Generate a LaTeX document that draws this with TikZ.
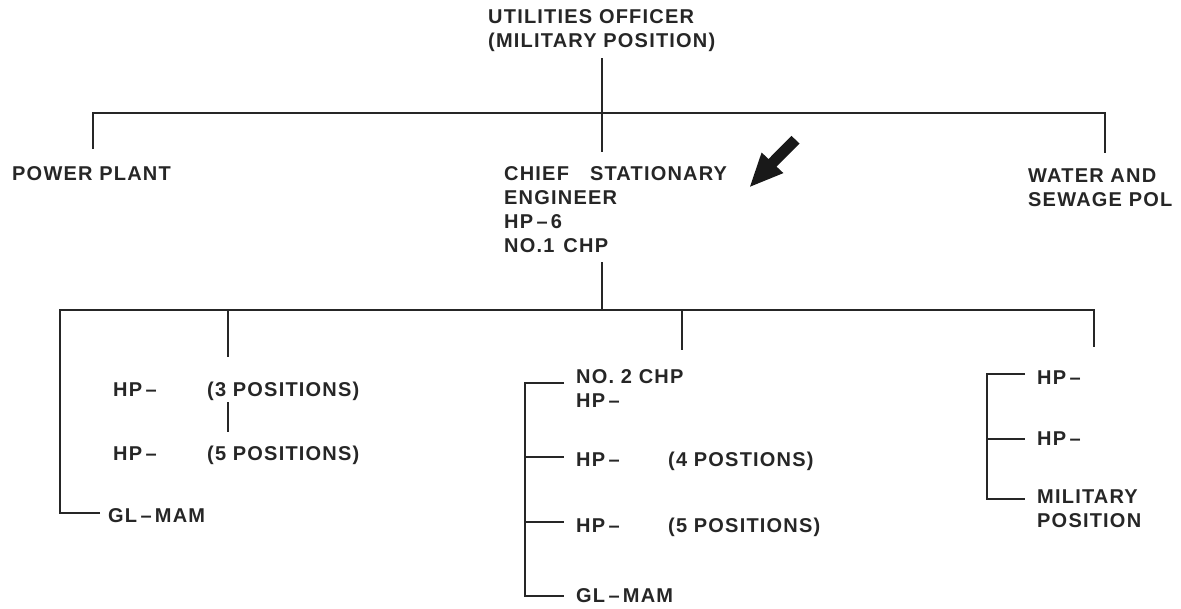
\documentclass[tikz,border=0pt]{standalone}
\usepackage{fontspec}
\setmainfont{Liberation Sans}[LetterSpace=6]
\begin{document}
\begin{tikzpicture}[x=1pt,y=-1pt,
  lbl/.style={anchor=base west,inner sep=0pt,font=\fontsize{20}{24}\selectfont\bfseries,text=black!85},
  ml/.style={lbl,align=left},
  wire/.style={line width=1.9pt,black!85}]
\useasboundingbox (0,0) rectangle (1181,608);
% top (multi-line nodes are placed by the baseline of their last line)
\node[ml] (uo) at (488,47) {UTILITIES OFFICER\\(MILITARY POSITION)};
\node[lbl] (pp) at (12,180) {POWER PLANT};
\node[ml] (cse) at (504,252) {CHIEF\hspace{21pt}STATIONARY\\ENGINEER\\HP\,–\,6\\NO.1\hspace{9pt}CHP};
\node[ml] (ws) at (1028,206) {WATER AND\\SEWAGE POL};
\coordinate (t0) at (602,58);
\coordinate (tl) at (93,113);
\coordinate (tr) at (1105,113);
\coordinate (tle) at (93,149);
\coordinate (tre) at (1105,153);
\coordinate (tce) at (602,152);
\draw[wire] (t0) -- (tce);
\draw[wire] (tle) -- (tl) -- (tr) -- (tre);
% second level bus
\coordinate (c0) at (602,262);
\coordinate (cb) at (602,310);
\coordinate (bl) at (60,310);
\coordinate (br) at (1094,310);
\coordinate (d1t) at (228,310);
\coordinate (d1b) at (228,357);
\coordinate (d2t) at (682,310);
\coordinate (d2b) at (682,350);
\coordinate (d3b) at (1094,347);
\coordinate (glj) at (60,513);
\coordinate (gle) at (100,513);
\draw[wire] (c0) -- (cb);
\draw[wire] (gle) -- (glj) -- (bl) -- (br) -- (d3b);
\draw[wire] (d1t) -- (d1b);
\draw[wire] (d2t) -- (d2b);
% left group
\node[lbl] (lh1) at (113,396) {HP\,–};
\node[lbl] (lp1) at (207,396) {(3 POSITIONS)};
\node[lbl] (lh2) at (113,460) {HP\,–};
\node[lbl] (lp2) at (207,460) {(5 POSITIONS)};
\node[lbl] (lgl) at (108,522) {GL\,–\,MAM};
\coordinate (s1) at (228,402);
\coordinate (s2) at (228,432);
\draw[wire] (s1) -- (s2);
% middle group
\node[ml] (mn) at (576,407) {NO. 2 CHP\\HP\,–};
\node[lbl] (mh1) at (576,466) {HP\,–};
\node[lbl] (mp1) at (668,466) {(4 POSTIONS)};
\node[lbl] (mh2) at (576,532) {HP\,–};
\node[lbl] (mp2) at (668,532) {(5 POSITIONS)};
\node[lbl] (mgl) at (576,602) {GL\,–\,MAM};
\coordinate (mv1) at (525,383);
\coordinate (mv4) at (525,596);
\coordinate (me1) at (564,383);
\coordinate (mv2) at (525,457);
\coordinate (me2) at (564,457);
\coordinate (mv3) at (525,522);
\coordinate (me3) at (564,522);
\coordinate (me4) at (564,596);
\draw[wire] (me1) -- (mv1) -- (mv4) -- (me4);
\draw[wire] (mv2) -- (me2);
\draw[wire] (mv3) -- (me3);
% right group
\node[lbl] (rh1) at (1037,384) {HP\,–};
\node[lbl] (rh2) at (1037,445) {HP\,–};
\node[ml] (rm) at (1037,527) {MILITARY\\POSITION};
\coordinate (rv1) at (987,374);
\coordinate (re1) at (1025,374);
\coordinate (rv2) at (987,439);
\coordinate (re2) at (1025,439);
\coordinate (rv3) at (987,499);
\coordinate (re3) at (1025,499);
\draw[wire] (re1) -- (rv1) -- (rv3) -- (re3);
\draw[wire] (rv2) -- (re2);
% arrow
\fill[black!90] (791.5,135.9) -- (799.5,143.5) -- (776.5,166.6) -- (783.4,173.1) -- (750,186.7) -- (761.6,152.5) -- (768.5,159.0) -- cycle;
\end{tikzpicture}
\end{document}
